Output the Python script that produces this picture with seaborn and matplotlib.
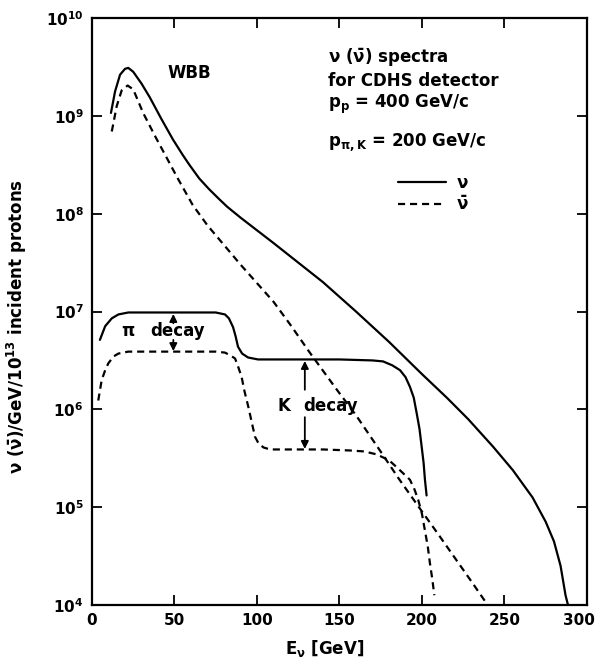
import numpy as np
import pandas as pd
import matplotlib
matplotlib.use("Agg")
import matplotlib.pyplot as plt
import matplotlib.transforms as mtransforms
import seaborn as sns

# values (energy in GeV, flux as log10)
wbb_nu_x = [11.5, 14, 17, 20, 22, 25, 30, 35, 42, 49, 55, 59, 65, 71, 77, 82, 90, 100,
            110, 125, 140, 160, 180, 200, 215, 228, 243, 255, 267, 275, 280, 284, 287, 288.5]
wbb_nu_log = [9.03, 9.25, 9.42, 9.48, 9.49, 9.45, 9.33, 9.19, 8.97, 8.76, 8.60, 8.50,
              8.36, 8.25, 8.15, 8.07, 7.96, 7.83, 7.70, 7.50, 7.30, 7.00, 6.69, 6.36,
              6.12, 5.90, 5.62, 5.38, 5.10, 4.85, 4.65, 4.40, 4.10, 4.0]

wbb_nubar_x = [12, 15, 18, 21.6, 25, 31, 38, 45, 52, 61, 70, 80, 90, 100, 110, 120,
               132, 148, 160, 174.5, 186, 199, 210, 220, 230, 239]
wbb_nubar_log = [8.84, 9.10, 9.26, 9.31, 9.27, 9.03, 8.80, 8.58, 8.36, 8.09, 7.88, 7.68,
                 7.48, 7.29, 7.10, 6.87, 6.58, 6.21, 5.94, 5.58, 5.29, 4.98, 4.72, 4.48,
                 4.24, 4.02]

nbb_nu_x = [4.8, 8, 12, 16, 22, 40, 60, 75, 80.6, 83, 85.5, 87, 88.5, 91, 94.6, 100.6,
            120, 150, 170, 176.4, 182, 186.7, 190, 192.7, 195, 196.8, 198.5, 199.8,
            201, 201.8, 202.8]
nbb_nu_log = [6.71, 6.85, 6.93, 6.97, 6.99, 6.99, 6.99, 6.99, 6.97, 6.93, 6.84, 6.75,
              6.64, 6.57, 6.53, 6.51, 6.51, 6.51, 6.50, 6.49, 6.45, 6.40, 6.33, 6.23,
              6.12, 5.96, 5.80, 5.62, 5.45, 5.28, 5.12]

nbb_nubar_x = [3.8, 5.9, 8, 9.9, 13, 16, 22, 40, 60, 75, 80.6, 84, 86.7, 88.5, 90.7,
               92.5, 94.7, 96.8, 98.8, 101, 104, 108, 115, 140, 156, 165, 172.5, 180,
               184.6, 189, 192.7, 195.5, 197.8, 200, 201.8, 203.5, 204.8, 206.2, 207.5]
nbb_nubar_log = [6.09, 6.30, 6.40, 6.47, 6.54, 6.57, 6.59, 6.59, 6.59, 6.59, 6.58, 6.55,
                 6.52, 6.44, 6.33, 6.18, 6.03, 5.87, 5.72, 5.65, 5.61, 5.59, 5.59, 5.59,
                 5.58, 5.57, 5.54, 5.48, 5.41, 5.34, 5.28, 5.18, 5.07, 4.93, 4.76, 4.60,
                 4.43, 4.27, 4.10]

x_ticks = [0, 50, 100, 150, 200, 250, 300]
y_tick_exps = [4, 5, 6, 7, 8, 9, 10]

sns.set_style("ticks")
plt.rcParams["font.family"] = ["DejaVu Sans"]
plt.rcParams["font.weight"] = "bold"
plt.rcParams["mathtext.fontset"] = "dejavusans"
for key in ["text.color", "axes.labelcolor", "xtick.color", "ytick.color", "axes.edgecolor"]:
    plt.rcParams[key] = "black"

fig = plt.figure(figsize=(6, 6.59), dpi=100)
ax = fig.add_axes([0.1533, 0.0819, 0.825, 0.8908])

solid = "-"
dashed = (0, (3.2, 2.2))
curves = [
    (wbb_nu_x, wbb_nu_log, solid, r"$\mathbf{\nu}$"),
    (wbb_nubar_x, wbb_nubar_log, dashed, r"$\mathbf{\bar{\nu}}$"),
    (nbb_nu_x, nbb_nu_log, solid, "_nolegend_"),
    (nbb_nubar_x, nbb_nubar_log, dashed, "_nolegend_"),
]
for xs, logs, ls, lab in curves:
    df = pd.DataFrame({"E": xs, "flux": 10 ** np.array(logs)})
    sns.lineplot(data=df, x="E", y="flux", ax=ax, color="black", lw=1.6,
                 linestyle=ls, label=lab, estimator=None, sort=False)

ax.set_yscale("log")
ax.set_xlim(0, 300)
ax.set_ylim(1e4, 1e10)
ax.set_xticks(x_ticks)
ax.set_xticklabels([str(t) for t in x_ticks])
ax.set_yticks([10.0 ** e for e in y_tick_exps])
ax.set_yticklabels([rf"$\mathbf{{10^{{{e}}}}}$" for e in y_tick_exps])
ax.minorticks_off()
ax.tick_params(direction="in", length=7, width=1.3, top=True, right=True,
               labelsize=11, pad=6)
for sp in ax.spines.values():
    sp.set_linewidth(1.6)

# last x label sits a bit left of its tick, as in the original
last = ax.get_xticklabels()[-1]
last.set_transform(last.get_transform() +
                   mtransforms.ScaledTranslation(-6 / 72, 0, fig.dpi_scale_trans))

ax.set_xlabel(r"$\mathbf{E_{\nu}}$ [GeV]", fontsize=12, fontweight="bold")
ax.xaxis.set_label_coords(0.469, -0.056)
ax.set_ylabel(r"$\mathbf{\nu\ (\bar{\nu})/GeV/10^{13}}$ incident protons",
              fontsize=12, fontweight="bold")
ax.yaxis.set_label_coords(-0.128, 0.474)

# annotations
ax.text(58.8, 10 ** 9.44, "WBB", fontsize=12, ha="center", va="center")
ax.text(143, 10 ** 9.59, r"$\mathbf{\nu\ (\bar{\nu})}$ spectra", fontsize=12, va="center")
ax.text(143, 10 ** 9.36, "for CDHS detector", fontsize=12, va="center")
ax.text(143, 10 ** 9.12, r"$\mathbf{p_p}$ = 400 GeV/c", fontsize=12, va="center")
ax.text(143, 10 ** 8.73, r"$\mathbf{p_{\pi,K}}$ = 200 GeV/c", fontsize=12, va="center")

arrow = dict(arrowstyle="-|>", color="black", lw=1.3, mutation_scale=11,
             shrinkA=0, shrinkB=0)
ax.text(21.8, 10 ** 6.80, r"$\mathbf{\pi}$", fontsize=12, ha="center", va="center")
ax.text(35.2, 10 ** 6.80, "decay", fontsize=12, ha="left", va="center")
ax.annotate("", xy=(49.3, 10 ** 6.975), xytext=(49.3, 10 ** 6.88), arrowprops=arrow)
ax.annotate("", xy=(49.3, 10 ** 6.595), xytext=(49.3, 10 ** 6.71), arrowprops=arrow)

ax.text(116.4, 10 ** 6.03, "K", fontsize=12, ha="center", va="center")
ax.text(127.9, 10 ** 6.03, "decay", fontsize=12, ha="left", va="center")
ax.annotate("", xy=(129, 10 ** 6.495), xytext=(129, 10 ** 6.20), arrowprops=arrow)
ax.annotate("", xy=(129, 10 ** 5.595), xytext=(129, 10 ** 5.92), arrowprops=arrow)

ax.legend(loc="upper left", bbox_to_anchor=(0.618, 0.735), frameon=False,
          handlelength=2.9, labelspacing=0.25, borderpad=0, borderaxespad=0,
          handletextpad=0.6, prop={"size": 12, "weight": "bold"})

fig.savefig("out.png", dpi=100)
